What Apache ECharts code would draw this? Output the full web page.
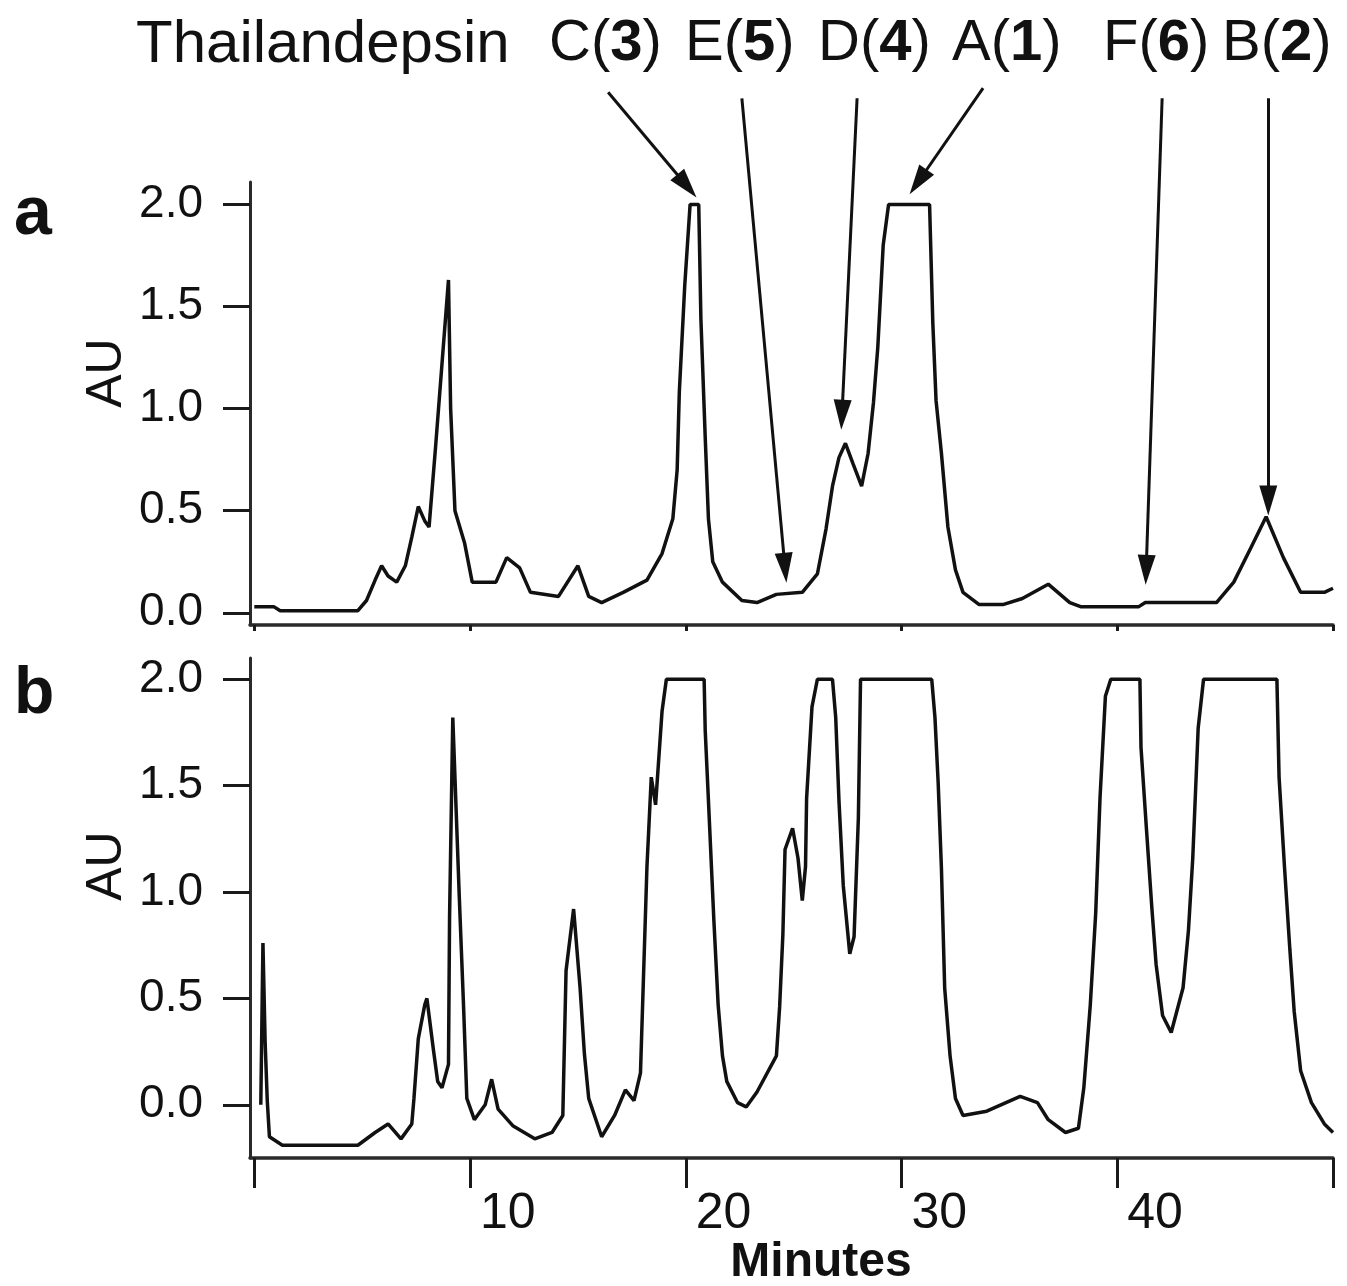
<!DOCTYPE html>
<html><head><meta charset="utf-8">
<script src="https://cdn.jsdelivr.net/npm/echarts@6/dist/echarts.min.js"></script>
<style>html,body{margin:0;padding:0;background:#fff}#c{width:1347px;height:1286px}</style>
</head><body><div id="c"></div>
<script>
// ---- data ----
const aTime = [0.0,0.9,1.2,4.8,5.2,5.6,5.9,6.2,6.6,7.0,7.3,7.6,7.9,8.1,8.4,8.7,9.0,9.1,9.3,9.75,10.1,11.2,11.7,12.3,12.8,14.1,15.0,15.5,16.1,17.1,18.2,18.9,19.4,19.6,19.7,19.95,20.2,20.6,20.7,20.9,21.05,21.25,21.7,22.6,23.3,24.2,25.4,26.1,26.5,26.8,27.1,27.4,27.75,28.15,28.45,28.7,28.9,29.15,29.4,31.3,31.45,31.6,31.85,32.15,32.5,32.85,33.6,34.7,35.6,36.8,37.8,38.3,41.0,41.3,44.6,45.4,46.2,46.9,47.7,48.5,49.6,50.0];
const aAU   = [0.03,0.03,0.01,0.01,0.06,0.16,0.23,0.18,0.15,0.23,0.37,0.52,0.45,0.42,0.81,1.22,1.63,1.0,0.5,0.34,0.15,0.15,0.27,0.22,0.10,0.08,0.23,0.08,0.05,0.10,0.16,0.29,0.46,0.70,1.08,1.6,2.0,2.0,1.44,0.86,0.46,0.25,0.15,0.06,0.05,0.09,0.10,0.19,0.41,0.62,0.76,0.83,0.73,0.62,0.78,1.03,1.30,1.80,2.0,2.0,1.42,1.04,0.78,0.42,0.21,0.10,0.04,0.04,0.07,0.14,0.05,0.03,0.03,0.05,0.05,0.15,0.32,0.47,0.27,0.10,0.10,0.12];

const bTime = [0.3,0.4,0.5,0.6,0.7,1.3,4.8,5.6,6.2,6.8,7.3,7.4,7.6,7.9,8.0,8.3,8.5,8.7,9.0,9.05,9.2,9.5,9.7,9.85,10.2,10.7,11.0,11.3,12.0,13.0,13.8,14.3,14.45,14.8,15.1,15.3,15.5,16.1,16.7,17.2,17.6,17.9,18.2,18.4,18.6,18.9,19.1,20.85,20.9,21.05,21.3,21.5,21.7,21.9,22.4,22.8,23.3,24.2,24.35,24.5,24.6,24.95,25.2,25.4,25.55,25.6,25.85,26.1,26.8,26.95,27.1,27.3,27.6,27.8,28.0,28.1,31.4,31.55,31.7,31.85,32.0,32.25,32.5,32.85,33.95,35.5,36.3,36.8,37.6,38.2,38.45,38.75,39.0,39.2,39.45,39.7,41.05,41.1,41.35,41.6,41.8,42.1,42.5,43.05,43.3,43.5,43.75,44.0,47.4,47.5,47.75,48.0,48.2,48.5,49.0,49.6,50.0];
const bAU   = [0.0,0.76,0.30,0.02,-0.15,-0.19,-0.19,-0.13,-0.09,-0.16,-0.09,0.03,0.31,0.47,0.50,0.26,0.11,0.08,0.19,0.88,1.82,0.98,0.46,0.03,-0.07,0.0,0.12,-0.02,-0.10,-0.16,-0.13,-0.05,0.63,0.92,0.55,0.24,0.03,-0.15,-0.05,0.07,0.02,0.15,1.12,1.54,1.41,1.85,2.0,2.0,1.76,1.43,0.87,0.47,0.23,0.11,0.01,-0.01,0.06,0.23,0.46,0.80,1.2,1.30,1.16,0.96,1.12,1.44,1.87,2.0,2.0,1.82,1.43,1.03,0.71,0.79,1.35,2.0,2.0,1.82,1.51,1.11,0.55,0.23,0.03,-0.05,-0.03,0.04,0.01,-0.07,-0.13,-0.11,0.08,0.47,0.90,1.44,1.92,2.0,2.0,1.68,1.30,0.93,0.66,0.42,0.34,0.55,0.82,1.16,1.77,2.0,2.0,1.54,1.12,0.73,0.44,0.16,0.01,-0.09,-0.13];

const yTickValues = [0, 0.5, 1.0, 1.5, 2.0];
const xTickValues = [0, 10, 20, 30, 40, 50];
const xLabelValues = [10, 20, 30, 40];

const compoundLetters = ['C', 'E', 'D', 'A', 'F', 'B'];
const compoundNumbers = ['3', '5', '4', '1', '6', '2'];
// arrow start / tip in panel-a data units (minutes, AU)
const arrowStartT = [16.4, 22.6, 27.94, 33.78, 42.08, 47.0];
const arrowStartAU = [2.55, 2.52, 2.52, 2.57, 2.52, 2.52];
const arrowTipT = [20.05, 24.6, 27.24, 30.77, 41.34, 47.0];
const arrowTipAU = [2.09, 0.22, 0.97, 2.11, 0.21, 0.55];

// ---- layout ----
const FONT = "'Liberation Sans', Arial, Helvetica, sans-serif";
const labelLeft = [549, 685, 818, 952, 1103, 1222];
const INK = '#111';

const chart = echarts.init(document.getElementById('c'), null, {renderer: 'canvas'});

const pairs = (xs, ys) => xs.map((x, i) => [x, ys[i]]);

function yAxisCfg(gridIndex, min, max) {
  return {
    type: 'value', gridIndex, min, max,
    axisLine: {show: true, onZero: false, lineStyle: {color: '#2a2a2a', width: 3}},
    axisTick: {show: true, inside: false, length: 27, customValues: yTickValues, lineStyle: {color: '#1a1a1a', width: 3}},
    axisLabel: {show: true, customValues: yTickValues, margin: 47, formatter: v => v.toFixed(1),
      fontFamily: FONT, fontSize: 46, color: '#111'},
    splitLine: {show: false}
  };
}
function xAxisCfg(gridIndex, showLabels, tickLen) {
  return {
    type: 'value', gridIndex, min: -0.2, max: 50,
    axisLine: {show: true, onZero: false, lineStyle: {color: '#2a2a2a', width: 3.5}},
    axisTick: {show: true, inside: false, length: tickLen, customValues: xTickValues, lineStyle: {color: '#1a1a1a', width: 3}},
    axisLabel: {show: showLabels, customValues: xLabelValues, margin: 31, align: 'left', padding: [0, 0, 0, 10],
      fontFamily: FONT, fontSize: 50, color: '#111'},
    splitLine: {show: false}
  };
}

const graphics = [];
graphics.push({type: 'text', left: 136, top: 15, style: {text: 'Thailandepsin', font: `60px ${FONT}`, fill: '#111'}});
compoundLetters.forEach((L, i) => {
  graphics.push({type: 'text', left: labelLeft[i], top: 15, style: {
    text: `{n|${L}(}{b|${compoundNumbers[i]}}{n|)}`,
    rich: {n: {fontFamily: FONT, fontSize: 58, fill: '#111'}, b: {fontFamily: FONT, fontSize: 58, fontWeight: 'bold', fill: '#111'}}
  }});
});
graphics.push({type: 'text', left: 14, top: 181, style: {text: 'a', font: `bold 68px ${FONT}`, fill: '#111'}});
graphics.push({type: 'text', left: 14, top: 662, style: {text: 'b', font: `bold 66px ${FONT}`, fill: '#111'}});
graphics.push({type: 'text', x: 107, y: 373, rotation: Math.PI / 2, style: {text: 'AU', font: `50px ${FONT}`, fill: '#111', align: 'center', verticalAlign: 'middle'}});
graphics.push({type: 'text', x: 107, y: 866, rotation: Math.PI / 2, style: {text: 'AU', font: `50px ${FONT}`, fill: '#111', align: 'center', verticalAlign: 'middle'}});
graphics.push({type: 'text', x: 821, y: 1263, style: {text: 'Minutes', font: `bold 48px ${FONT}`, fill: '#111', align: 'center', verticalAlign: 'middle'}});

const arrowData = arrowStartT.map((t, i) => ({coords: [[t, arrowStartAU[i]], [arrowTipT[i], arrowTipAU[i]]]}));

chart.setOption({
  animation: false,
  backgroundColor: '#fff',
  grid: [
    {left: 250, top: 182, width: 1083, height: 443},
    {left: 250, top: 658, width: 1083, height: 500}
  ],
  xAxis: [xAxisCfg(0, false, 6), xAxisCfg(1, true, 30)],
  yAxis: [yAxisCfg(0, -0.06, 2.11), yAxisCfg(1, -0.25, 2.10)],
  graphic: graphics,
  series: [
    {type: 'line', xAxisIndex: 0, yAxisIndex: 0, data: pairs(aTime, aAU), showSymbol: false, symbol: 'none',
      lineStyle: {color: INK, width: 3.5}, clip: false},
    {type: 'line', xAxisIndex: 1, yAxisIndex: 1, data: pairs(bTime, bAU), showSymbol: false, symbol: 'none',
      lineStyle: {color: INK, width: 3.5}, clip: false},
    {type: 'lines', coordinateSystem: 'cartesian2d', xAxisIndex: 0, yAxisIndex: 0, clip: false,
      symbol: ['none', 'triangle'], symbolSize: [1, [18, 30]], symbolOffset: [0, 15],
      lineStyle: {color: '#111', width: 3, opacity: 1}, itemStyle: {color: '#111'},
      data: arrowData}
  ]
});
</script></body></html>
